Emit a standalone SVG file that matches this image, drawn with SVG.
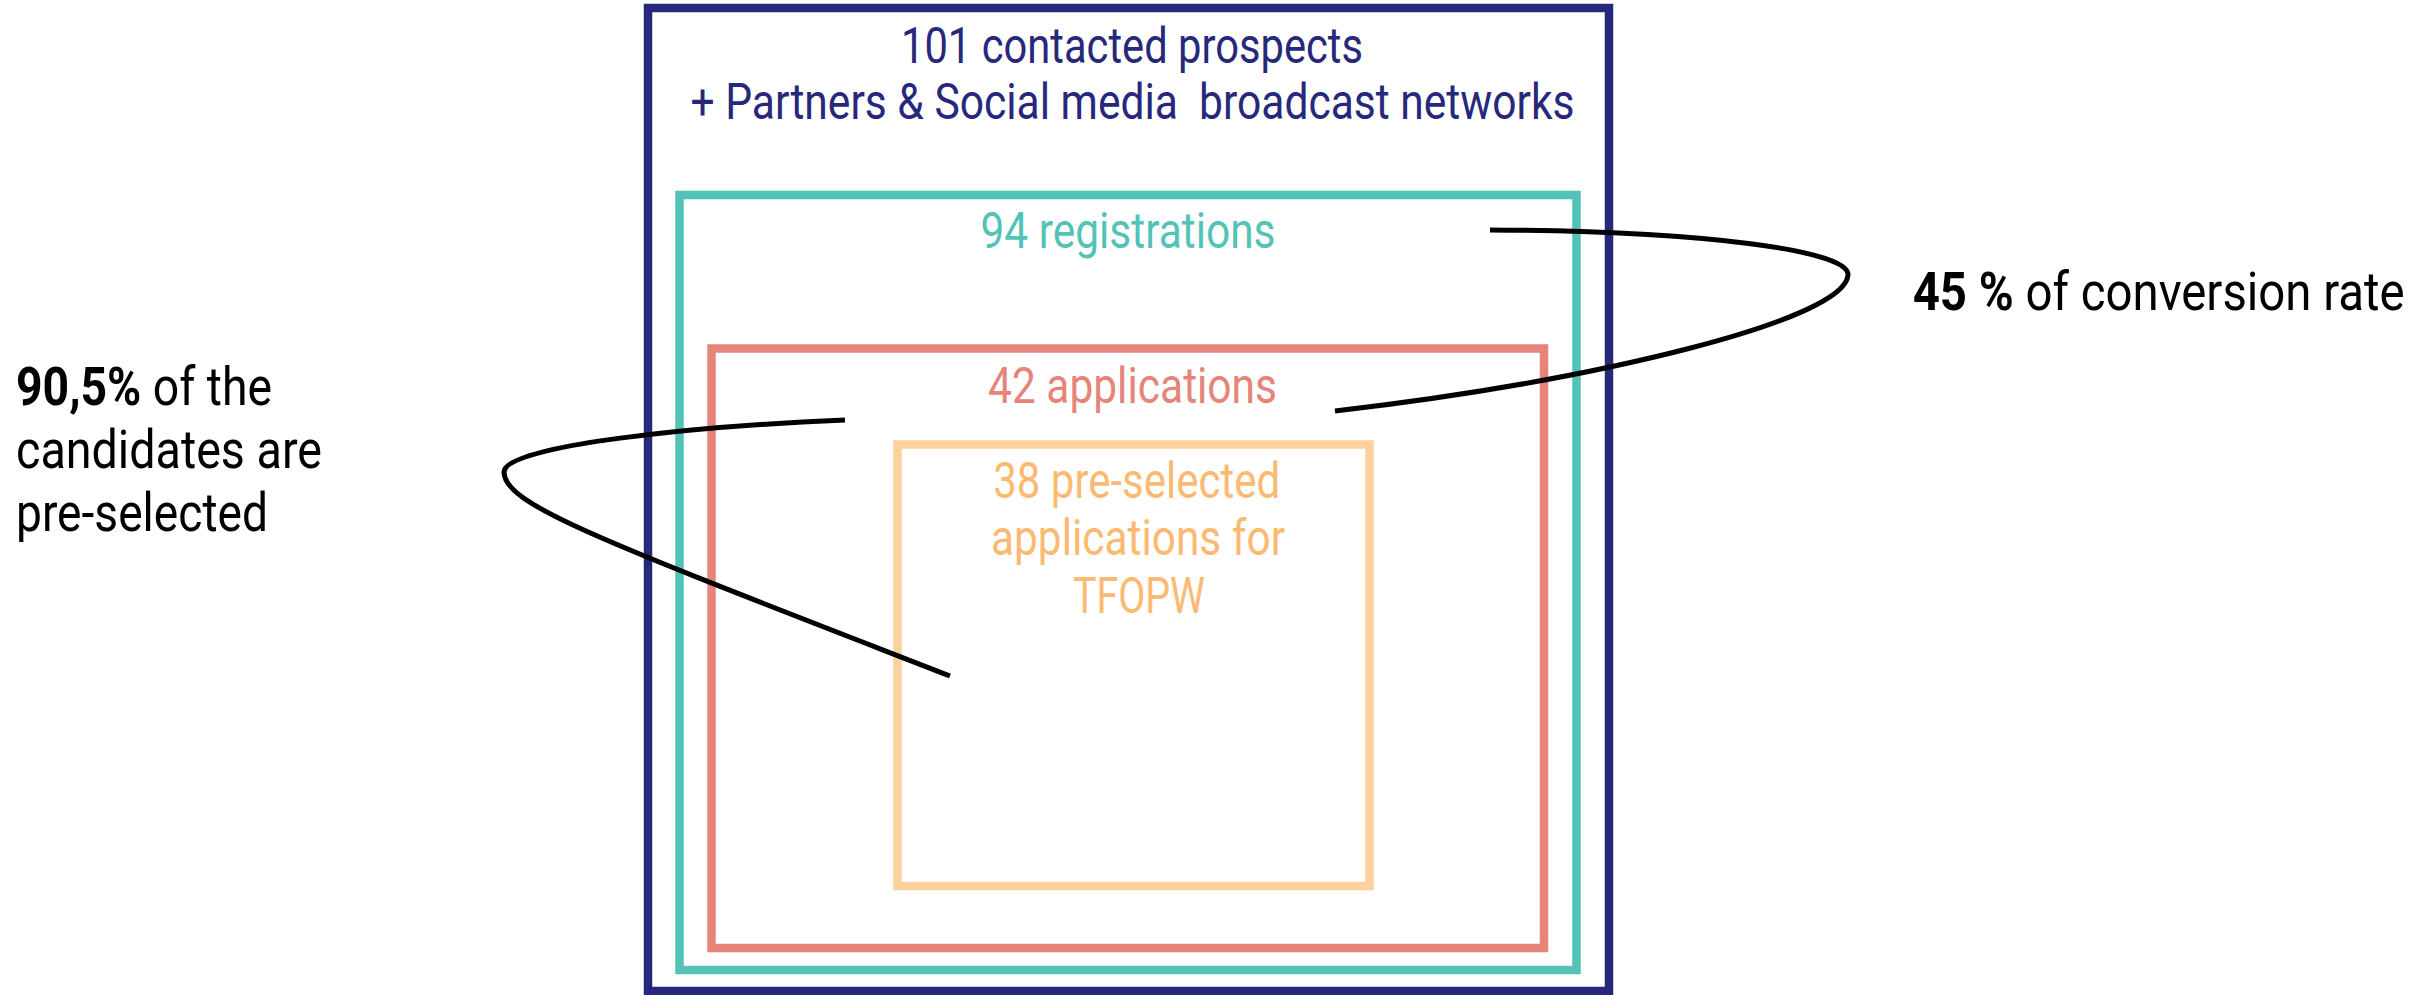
<svg xmlns="http://www.w3.org/2000/svg" width="2433" height="995" viewBox="0 0 2433 995">
<style>
.box{fill:none;stroke-width:8.5}
.lbl{font-family:Roboto,"Liberation Sans",sans-serif;font-size:50px;text-anchor:middle;white-space:pre}
.note{font-family:Roboto,"Liberation Sans",sans-serif;font-size:53px;fill:#000;white-space:pre}
.b{font-weight:bold}
.conn{fill:none;stroke:#000;stroke-width:5;stroke-linecap:butt}
</style>
<rect width="2433" height="995" fill="#fff"/>
<g id="prospects">
<rect class="box" x="648" y="8" width="961" height="983" stroke="#27287b"/>
<text class="lbl" fill="#27287b" x="1132" y="62.7" textLength="462" lengthAdjust="spacingAndGlyphs">101 contacted prospects</text>
<text class="lbl" fill="#27287b" x="1132.5" y="119.3" textLength="884" lengthAdjust="spacingAndGlyphs">+ Partners &amp; Social media  broadcast networks</text>
</g>
<g id="registrations">
<rect class="box" x="679.5" y="195" width="897" height="775" stroke="#52c3b6"/>
<text class="lbl" fill="#52c3b6" x="1128" y="248.3" textLength="295" lengthAdjust="spacingAndGlyphs">94 registrations</text>
</g>
<g id="applications">
<rect class="box" x="711.5" y="348.5" width="832.5" height="599.5" stroke="#e6847a"/>
<text class="lbl" fill="#e6847a" x="1132.5" y="403" textLength="289" lengthAdjust="spacingAndGlyphs">42 applications</text>
</g>
<g id="preselected">
<rect class="box" x="897.5" y="444.5" width="472" height="441.5" stroke="#fdd09c"/>
<text class="lbl" fill="#fcb972" x="1136.7" y="498.3" textLength="287" lengthAdjust="spacingAndGlyphs">38 pre-selected</text>
<text class="lbl" fill="#fcb972" x="1138" y="555" textLength="294" lengthAdjust="spacingAndGlyphs">applications for</text>
<text class="lbl" fill="#fcb972" x="1139" y="613.3" textLength="132" lengthAdjust="spacingAndGlyphs">TFOPW</text>
</g>
<g id="connectors">
<path class="conn" d="M1490,230 C1700,231 1850,250 1848,275 C1845,320 1600,380 1335,411"/>
<path class="conn" d="M845,420 C700,426 504,445 504,472 C504,505 600,540 950,676"/>
</g>
<g id="note-conversion">
<text class="note" x="1912.7" y="310" textLength="492" lengthAdjust="spacingAndGlyphs"><tspan class="b">45 %</tspan> of conversion rate</text>
</g>
<g id="note-preselected">
<text class="note" x="16" y="405" textLength="256" lengthAdjust="spacingAndGlyphs"><tspan class="b">90,5%</tspan> of the</text>
<text class="note" x="16" y="468.3" textLength="306" lengthAdjust="spacingAndGlyphs">candidates are</text>
<text class="note" x="16" y="530.5" textLength="252" lengthAdjust="spacingAndGlyphs">pre-selected</text>
</g>
</svg>
